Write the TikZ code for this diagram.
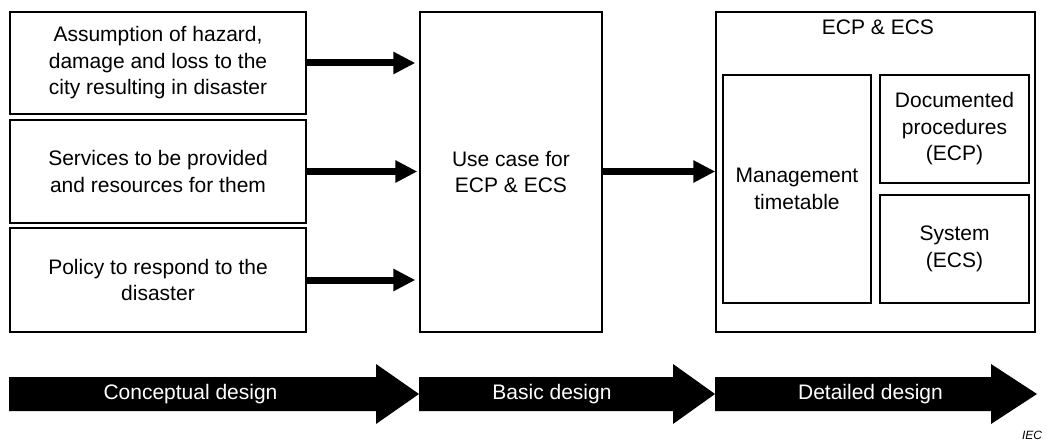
\documentclass[tikz,border=0pt]{standalone}
\usepackage{fontspec}
\setmainfont{Liberation Sans}
\usetikzlibrary{arrows.meta}

\tikzset{
  box/.style={draw=black, line width=1.3pt, fill=white, inner sep=0pt,
              align=center, font=\fontsize{21}{26.5}\selectfont},
  flow/.style={line width=7pt, -{Triangle[length=22pt,width=21pt]}},
  phase/.style={fill=black},
  phaselabel/.style={text=white, font=\fontsize{21}{25}\selectfont, inner sep=0pt}
}

\begin{document}
\begin{tikzpicture}[x=1pt, y=-1pt]
  \useasboundingbox (0,0) rectangle (1047,441);

  % input boxes
  \node[box, minimum width=296pt, minimum height=102pt] (haz) at (158,63)
    {Assumption of hazard,\\damage and loss to the\\city resulting in disaster};
  \node[box, minimum width=296pt, minimum height=103pt] (svc) at (158,171.5)
    {Services to be provided\\and resources for them};
  \node[box, minimum width=296pt, minimum height=104pt] (pol) at (158,280)
    {Policy to respond to the\\disaster};

  % basic design box
  \node[box, minimum width=182pt, minimum height=320pt] (use) at (511,172)
    {Use case for\\ECP \& ECS};

  % detailed design box with its parts
  \node[box, minimum width=319pt, minimum height=320pt] (ecp) at (875.5,172) {};
  \node[font=\fontsize{21}{25}\selectfont, inner sep=0pt] (ecptitle) at (878,27) {ECP \& ECS};
  \node[box, minimum width=148pt, minimum height=228pt] (mgmt) at (797,189)
    {Management\\timetable};
  \node[box, minimum width=149pt, minimum height=108pt] (doc) at (954.5,129)
    {Documented\\procedures\\(ECP)};
  \node[box, minimum width=149pt, minimum height=108pt] (sys) at (954.5,249)
    {System\\(ECS)};

  % connectors
  \draw[flow, shorten >=4pt] (haz.east) -- (haz.east -| use.west);
  \draw[flow, shorten >=2pt] (svc.east) -- (svc.east -| use.west);
  \draw[flow, shorten >=4pt] (pol.east) -- (pol.east -| use.west);
  \draw[flow] (use.east |- svc.east) -- (ecp.west |- svc.east);

  % design phase arrows
  \fill[phase] (9,377) -- (376,377) -- (376,364) -- (419,394) -- (376,424) -- (376,411) -- (9,411) -- cycle;
  \fill[phase] (419,377) -- (673,377) -- (673,364) -- (715,394) -- (673,424) -- (673,411) -- (419,411) -- cycle;
  \fill[phase] (715,377) -- (991,377) -- (991,364) -- (1037,394) -- (991,424) -- (991,411) -- (715,411) -- cycle;
  \node[phaselabel] (concept) at (190.5,394) {Conceptual design};
  \node[phaselabel] (basic) at (552,394) {Basic design};
  \node[phaselabel] (detail) at (870.5,394) {Detailed design};

  % source mark
  \node[font=\fontsize{12}{14}\selectfont\itshape, inner sep=0pt, anchor=base] (iec) at (1032,439) {IEC};
\end{tikzpicture}
\end{document}
